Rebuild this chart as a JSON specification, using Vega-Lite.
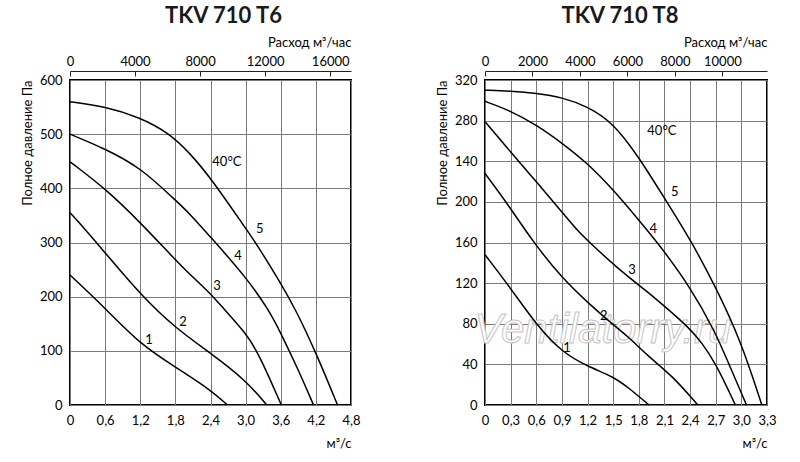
{
  "$schema": "https://vega.github.io/schema/vega-lite/v6.json",
  "background": "white",
  "padding": {"left": 20, "top": 4, "right": 5, "bottom": 5},
  "bounds": "flush",
  "spacing": 134,
  "datasets": {
    "t6": [
      {"c": "5", "q": 0, "p": 560}, {"c": "5", "q": 0.6, "p": 551}, {"c": "5", "q": 1.2, "p": 531},
      {"c": "5", "q": 1.69, "p": 502}, {"c": "5", "q": 2.03, "p": 467}, {"c": "5", "q": 2.4, "p": 420},
      {"c": "5", "q": 3.0, "p": 326}, {"c": "5", "q": 3.17, "p": 300}, {"c": "5", "q": 3.6, "p": 225},
      {"c": "5", "q": 3.86, "p": 175}, {"c": "5", "q": 4.2, "p": 97}, {"c": "5", "q": 4.57, "p": 0},
      {"c": "4", "q": 0, "p": 500}, {"c": "4", "q": 0.6, "p": 473}, {"c": "4", "q": 1.21, "p": 438},
      {"c": "4", "q": 1.8, "p": 378}, {"c": "4", "q": 2.03, "p": 355}, {"c": "4", "q": 2.4, "p": 310},
      {"c": "4", "q": 3.0, "p": 237}, {"c": "4", "q": 3.4, "p": 175}, {"c": "4", "q": 3.6, "p": 133},
      {"c": "4", "q": 3.9, "p": 65}, {"c": "4", "q": 4.16, "p": 0},
      {"c": "3", "q": 0, "p": 449}, {"c": "3", "q": 0.6, "p": 400}, {"c": "3", "q": 1.21, "p": 336},
      {"c": "3", "q": 1.8, "p": 268}, {"c": "3", "q": 2.03, "p": 243}, {"c": "3", "q": 2.4, "p": 206},
      {"c": "3", "q": 2.63, "p": 177}, {"c": "3", "q": 3.0, "p": 133}, {"c": "3", "q": 3.22, "p": 96},
      {"c": "3", "q": 3.61, "p": 0},
      {"c": "2", "q": 0, "p": 355}, {"c": "2", "q": 0.27, "p": 323}, {"c": "2", "q": 0.6, "p": 281},
      {"c": "2", "q": 1.21, "p": 203}, {"c": "2", "q": 1.8, "p": 142}, {"c": "2", "q": 2.4, "p": 96},
      {"c": "2", "q": 3.0, "p": 46}, {"c": "2", "q": 3.36, "p": 0},
      {"c": "1", "q": 0, "p": 240}, {"c": "1", "q": 0.6, "p": 179}, {"c": "1", "q": 1.21, "p": 111},
      {"c": "1", "q": 1.8, "p": 70}, {"c": "1", "q": 2.4, "p": 28}, {"c": "1", "q": 2.69, "p": 0}
    ],
    "t6lab": [
      {"t": "1", "q": 1.35, "p": 120},
      {"t": "2", "q": 1.93, "p": 153},
      {"t": "3", "q": 2.51, "p": 220},
      {"t": "4", "q": 2.87, "p": 276},
      {"t": "5", "q": 3.24, "p": 325},
      {"t": "40°C", "q": 2.68, "p": 448}
    ],
    "t8": [
      {"c": "5", "q": 0, "p": 310}, {"c": "5", "q": 0.3, "p": 309}, {"c": "5", "q": 0.6, "p": 307},
      {"c": "5", "q": 0.9, "p": 303}, {"c": "5", "q": 1.2, "p": 294}, {"c": "5", "q": 1.5, "p": 278},
      {"c": "5", "q": 1.8, "p": 244}, {"c": "5", "q": 2.09, "p": 205}, {"c": "5", "q": 2.41, "p": 162},
      {"c": "5", "q": 2.7, "p": 116}, {"c": "5", "q": 2.99, "p": 64}, {"c": "5", "q": 3.24, "p": 0},
      {"c": "4", "q": 0, "p": 299}, {"c": "4", "q": 0.29, "p": 290}, {"c": "4", "q": 0.6, "p": 276},
      {"c": "4", "q": 0.9, "p": 258}, {"c": "4", "q": 1.2, "p": 238}, {"c": "4", "q": 1.5, "p": 212},
      {"c": "4", "q": 1.8, "p": 182}, {"c": "4", "q": 2.0, "p": 162}, {"c": "4", "q": 2.39, "p": 118},
      {"c": "4", "q": 2.7, "p": 71}, {"c": "4", "q": 2.85, "p": 41}, {"c": "4", "q": 3.06, "p": 0},
      {"c": "3", "q": 0, "p": 279}, {"c": "3", "q": 0.29, "p": 250}, {"c": "3", "q": 0.6, "p": 220},
      {"c": "3", "q": 0.9, "p": 190}, {"c": "3", "q": 1.08, "p": 172}, {"c": "3", "q": 1.2, "p": 162},
      {"c": "3", "q": 1.57, "p": 133}, {"c": "3", "q": 1.88, "p": 113}, {"c": "3", "q": 2.09, "p": 98},
      {"c": "3", "q": 2.39, "p": 76}, {"c": "3", "q": 2.54, "p": 61}, {"c": "3", "q": 2.7, "p": 41},
      {"c": "3", "q": 2.93, "p": 0},
      {"c": "2", "q": 0, "p": 228}, {"c": "2", "q": 0.29, "p": 195}, {"c": "2", "q": 0.55, "p": 162},
      {"c": "2", "q": 0.9, "p": 125}, {"c": "2", "q": 1.2, "p": 101}, {"c": "2", "q": 1.5, "p": 79},
      {"c": "2", "q": 1.68, "p": 67}, {"c": "2", "q": 1.92, "p": 47}, {"c": "2", "q": 2.19, "p": 29},
      {"c": "2", "q": 2.49, "p": 0},
      {"c": "1", "q": 0, "p": 148}, {"c": "1", "q": 0.3, "p": 115}, {"c": "1", "q": 0.6, "p": 79},
      {"c": "1", "q": 0.9, "p": 52}, {"c": "1", "q": 1.2, "p": 38}, {"c": "1", "q": 1.5, "p": 28},
      {"c": "1", "q": 1.68, "p": 17}, {"c": "1", "q": 1.92, "p": 0}
    ],
    "t8lab": [
      {"t": "1", "q": 0.96, "p": 56},
      {"t": "2", "q": 1.39, "p": 88},
      {"t": "3", "q": 1.72, "p": 133},
      {"t": "4", "q": 1.97, "p": 173},
      {"t": "5", "q": 2.22, "p": 210},
      {"t": "40°C", "q": 2.07, "p": 270}
    ],
    "mark": [
      {"t": "Ventilatorry.ru", "q": 1.38, "p": 74}
    ]
  },
  "hconcat": [
    {
      "width": 281,
      "height": 325,
      "title": {"text": "TKV 710 T6", "frame": "group", "dx": 13, "offset": 8},
      "layer": [
        {
          "data": {"name": "t6"},
          "mark": {"type": "line", "interpolate": "basis", "color": "black", "strokeWidth": 1.5},
          "encoding": {
            "x": {
              "field": "q", "type": "quantitative",
              "scale": {"domain": [0, 4.8], "nice": false},
              "axis": {
                "orient": "bottom", "values": [0, 0.6, 1.2, 1.8, 2.4, 3.0, 3.6, 4.2, 4.8],
                "labelExpr": "datum.value == 0 ? '0' : replace(format(datum.value, '.1f'), '.', ',')",
                "grid": true, "labelPadding": 9, "labelFlush": false,
                "title": "м³/с", "titleAnchor": "end", "titlePadding": 10
              }
            },
            "y": {
              "field": "p", "type": "quantitative",
              "scale": {"domain": [0, 600], "nice": false},
              "axis": {
                "values": [0, 100, 200, 300, 400, 500, 600],
                "grid": true, "labelPadding": 8, "labelFlush": false,
                "title": "Полное давление Па", "titleAnchor": "end", "titlePadding": 5
              }
            },
            "detail": {"field": "c"}
          }
        },
        {
          "data": {"name": "t6lab"},
          "mark": {"type": "text", "fontSize": 13, "color": "black", "align": "center", "baseline": "middle"},
          "encoding": {
            "x": {
              "field": "q", "type": "quantitative",
              "axis": {
                "orient": "top", "values": [0, 1.11111, 2.22222, 3.33333, 4.44444],
                "labelExpr": "format(round(datum.value * 3600), 'd')",
                "grid": false, "domain": true, "domainColor": "#222", "domainWidth": 1,
                "ticks": true, "tickSize": -5, "tickColor": "#222", "offset": 9,
                "labelPadding": 8, "labelFlush": false,
                "title": "Расход м³/час", "titleAnchor": "end", "titlePadding": 6
              }
            },
            "y": {"field": "p", "type": "quantitative"},
            "text": {"field": "t"}
          }
        }
      ],
      "resolve": {"axis": {"x": "independent"}}
    },
    {
      "width": 282,
      "height": 325,
      "title": {"text": "TKV 710 T8", "frame": "group", "dx": -6, "offset": 8},
      "layer": [
        {
          "data": {"name": "mark"},
          "mark": {"type": "text", "fontSize": 42, "font": "Liberation Sans", "fontStyle": "italic", "fill": "white", "stroke": "#c4c4c4", "strokeWidth": 1, "align": "center", "baseline": "middle"},
          "encoding": {
            "x": {
              "field": "q", "type": "quantitative",
              "scale": {"domain": [0, 3.3], "nice": false},
              "axis": {
                "orient": "bottom", "values": [0, 0.3, 0.6, 0.9, 1.2, 1.5, 1.8, 2.1, 2.4, 2.7, 3.0, 3.3],
                "labelExpr": "datum.value == 0 ? '0' : replace(format(datum.value, '.1f'), '.', ',')",
                "grid": true, "labelPadding": 9, "labelFlush": false,
                "title": "м³/с", "titleAnchor": "end", "titlePadding": 10
              }
            },
            "y": {
              "field": "p", "type": "quantitative",
              "scale": {"domain": [0, 320], "nice": false},
              "axis": {
                "values": [0, 40, 80, 120, 160, 200, 240, 280, 320],
                "labelExpr": "datum.value == 240 ? '140' : datum.label",
                "grid": true, "labelPadding": 8, "labelFlush": false,
                "title": "Полное давление Па", "titleAnchor": "end", "titlePadding": 5
              }
            },
            "text": {"field": "t"}
          }
        },
        {
          "data": {"name": "t8"},
          "mark": {"type": "line", "interpolate": "basis", "color": "black", "strokeWidth": 1.5},
          "encoding": {
            "x": {"field": "q", "type": "quantitative", "axis": null},
            "y": {"field": "p", "type": "quantitative"},
            "detail": {"field": "c"}
          }
        },
        {
          "data": {"name": "t8lab"},
          "mark": {"type": "text", "fontSize": 13, "color": "black", "align": "center", "baseline": "middle"},
          "encoding": {
            "x": {
              "field": "q", "type": "quantitative",
              "axis": {
                "orient": "top", "values": [0, 0.55556, 1.11111, 1.66667, 2.22222, 2.77778],
                "labelExpr": "format(round(datum.value * 3600), 'd')",
                "grid": false, "domain": true, "domainColor": "#222", "domainWidth": 1,
                "ticks": true, "tickSize": -5, "tickColor": "#222", "offset": 9,
                "labelPadding": 8, "labelFlush": false,
                "title": "Расход м³/час", "titleAnchor": "end", "titlePadding": 6
              }
            },
            "y": {"field": "p", "type": "quantitative"},
            "text": {"field": "t"}
          }
        }
      ],
      "resolve": {"axis": {"x": "independent"}}
    }
  ],
  "config": {
    "font": "Lato",
    "view": {"stroke": "black", "strokeWidth": 2},
    "title": {"font": "Lato", "fontSize": 22, "fontWeight": "bold", "color": "#1a1a1a", "anchor": "middle"},
    "axis": {
      "labelFont": "Lato", "labelFontSize": 13, "labelColor": "black",
      "titleFont": "Lato", "titleFontSize": 13, "titleFontWeight": "normal", "titleColor": "black",
      "gridColor": "#7a7a7a", "gridWidth": 1, "gridOpacity": 1,
      "domain": false, "ticks": false
    }
  }
}
